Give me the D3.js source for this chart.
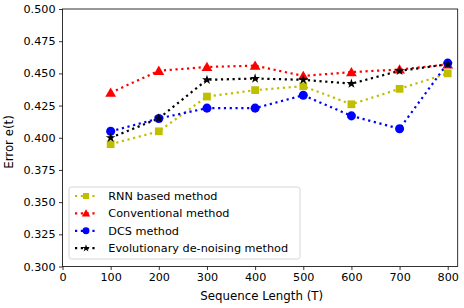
<!DOCTYPE html>
<html><head><meta charset="utf-8">
<script src="https://cdn.jsdelivr.net/npm/d3@7"></script>
<style>body{margin:0;background:#fff}svg{display:block}text{font-family:"DejaVu Sans",sans-serif}</style>
</head><body>
<script>
const xValues = [100, 200, 300, 400, 500, 600, 700, 800];
const rnnValues = [0.395, 0.405, 0.432, 0.437, 0.440, 0.426, 0.438, 0.450];
const conventionalValues = [0.435, 0.452, 0.455, 0.456, 0.448, 0.451, 0.453, 0.457];
const dcsValues = [0.405, 0.415, 0.423, 0.423, 0.433, 0.417, 0.407, 0.458];
const evolutionaryValues = [0.400, 0.415, 0.445, 0.446, 0.445, 0.442, 0.452, 0.457];
const seriesNames = ["RNN based method", "Conventional method", "DCS method", "Evolutionary de-noising method"];
const xTicks = [0, 100, 200, 300, 400, 500, 600, 700, 800];
const yTicks = [0.300, 0.325, 0.350, 0.375, 0.400, 0.425, 0.450, 0.475, 0.500];

const W = 464, H = 308;
const L = 62.5, R = 457.7, T = 9, B = 266.5;
const svg = d3.select("body").append("svg").attr("width", W).attr("height", H);
const x = d3.scaleLinear().domain([0, 820.7]).range([L, R]);
const y = d3.scaleLinear().domain([0.3, 0.5]).range([B, T]);

const series = [
  {name: seriesNames[0], values: rnnValues, color: "#bfbf00", sym: d3.symbolSquare, size: 60},
  {name: seriesNames[1], values: conventionalValues, color: "#ff0000", sym: d3.symbolTriangle, size: 50},
  {name: seriesNames[2], values: dcsValues, color: "#0000ff", sym: d3.symbolCircle, size: 64},
  {name: seriesNames[3], values: evolutionaryValues, color: "#000000", sym: d3.symbolStar, size: 30}
];

// axes
const fmt = d3.format(".3f");
svg.append("g").attr("transform", `translate(0,${B})`)
  .call(d3.axisBottom(x).tickValues(xTicks).tickSize(3.5).tickPadding(3.5).tickFormat(d3.format("d")))
  .call(g => g.select(".domain").remove())
  .call(g => g.selectAll("text").attr("font-size", 11.2).attr("fill", "#000").style("font-family", "DejaVu Sans"))
  .call(g => g.selectAll("line").attr("stroke", "#000").attr("stroke-width", 0.8));
svg.append("g").attr("transform", `translate(${L},0)`)
  .call(d3.axisLeft(y).tickValues(yTicks).tickSize(3.5).tickPadding(3.5).tickFormat(fmt))
  .call(g => g.select(".domain").remove())
  .call(g => g.selectAll("text").attr("font-size", 11.2).attr("fill", "#000").style("font-family", "DejaVu Sans"))
  .call(g => g.selectAll("line").attr("stroke", "#000").attr("stroke-width", 0.8));

svg.append("text").attr("x", 261.7).attr("y", 299.5).attr("text-anchor", "middle")
  .attr("font-size", 11.8).text("Sequence Length (T)");
svg.append("text").attr("transform", `translate(12.5,142) rotate(-90)`).attr("text-anchor", "middle")
  .attr("font-size", 11.8).text("Error e(t)");

const plot = svg.append("g");
const line = d3.line().x((d, i) => x(xValues[i])).y(d => y(d));
series.forEach(s => {
  plot.append("path").datum(s.values).attr("d", line).attr("fill", "none")
    .attr("stroke", s.color).attr("stroke-width", 2.2).attr("stroke-dasharray", "2.2,3.6");
});
series.forEach(s => {
  plot.selectAll(null).data(s.values).enter().append("path")
    .attr("transform", (d, i) => `translate(${x(xValues[i])},${y(d) + (s.sym === d3.symbolTriangle ? 1 : 0)})`)
    .attr("d", d3.symbol().type(s.sym).size(s.size)).attr("fill", s.color);
});

// frame
svg.append("rect").attr("x", L).attr("y", T).attr("width", R - L).attr("height", B - T)
  .attr("fill", "none").attr("stroke", "#000").attr("stroke-width", 0.8);

// legend
const lg = svg.append("g");
lg.append("rect").attr("x", 69).attr("y", 187).attr("width", 231).attr("height", 72).attr("rx", 2.5)
  .attr("fill", "#fff").attr("fill-opacity", 0.8).attr("stroke", "#cccccc").attr("stroke-width", 0.8);
series.forEach((s, i) => {
  const yy = 196 + i * 17.4;
  lg.append("line").attr("x1", 75).attr("x2", 97).attr("y1", yy).attr("y2", yy)
    .attr("stroke", s.color).attr("stroke-width", 2.2).attr("stroke-dasharray", "2.2,3.6");
  lg.append("path").attr("transform", `translate(86,${yy + (s.sym === d3.symbolTriangle ? 0.7 : 0)})`)
    .attr("d", d3.symbol().type(s.sym).size(s.size * 0.6)).attr("fill", s.color);
  lg.append("text").attr("x", 108.3).attr("y", yy).attr("dy", "0.35em").attr("font-size", 11.25).text(s.name);
});
</script>
</body></html>
